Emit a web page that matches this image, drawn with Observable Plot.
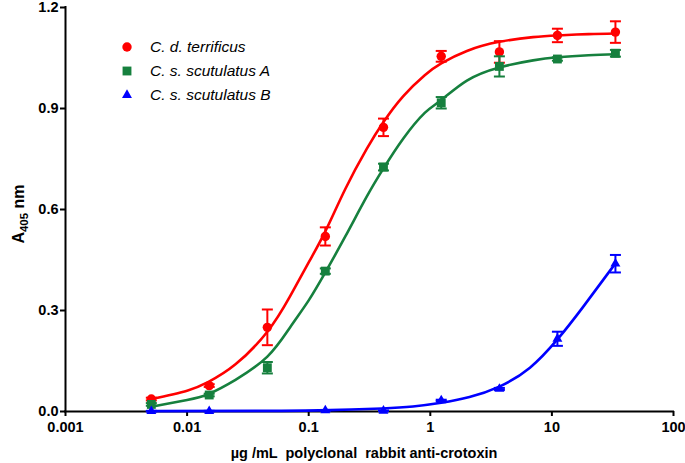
<!DOCTYPE html>
<html><head><meta charset="utf-8">
<script src="https://cdn.jsdelivr.net/npm/d3@7"></script>
<script src="https://cdn.jsdelivr.net/npm/@observablehq/plot@0.6"></script>
<style>
body{margin:0;background:#fff;}
#wrap{position:relative;width:685px;height:463px;font-family:"Liberation Sans",Arial,sans-serif;}
#legend{position:absolute;left:117px;top:35px;font-style:italic;font-size:15.5px;color:#000;}
.li{display:flex;align-items:center;height:24px;}
.li svg{width:20px;height:14px;margin-right:13px;}
</style></head><body><div id="wrap"><div id="legend"></div></div>
<script>
// ---- data ----
const seriesNames = ["C. d. terrificus", "C. s. scutulatus A", "C. s. scutulatus B"];
const seriesColors = ["#ff0000", "#16803e", "#0000ff"];
const dilutions = [0.00508, 0.0152, 0.0457, 0.137, 0.412, 1.23, 3.70, 11.1, 33.3];

const terrMean = [0.037, 0.077, 0.25, 0.52, 0.844, 1.055, 1.068, 1.117, 1.127];
const terrSem  = [0.004, 0.004, 0.053, 0.027, 0.026, 0.016, 0.032, 0.02, 0.032];
const scutAMean = [0.021, 0.049, 0.13, 0.417, 0.726, 0.917, 1.025, 1.047, 1.064];
const scutASem  = [0.004, 0.004, 0.017, 0.008, 0.01, 0.017, 0.03, 0.005, 0.01];
const scutBDil  = [0.00508, 0.0152, 0.137, 0.412, 1.23, 3.70, 11.1, 33.3];
const scutBMean = [0.001, 0.001, 0.003, 0.002, 0.033, 0.067, 0.216, 0.439];
const scutBSem  = [0.001, 0.001, 0.001, 0.001, 0.002, 0.003, 0.021, 0.026];

// fitted curves
const terrFitX = [0.00508, 0.01, 0.015, 0.025, 0.0457, 0.07, 0.1, 0.137, 0.2, 0.3, 0.412, 0.6, 0.9, 1.23, 2, 3.7, 7, 11.1, 20, 33.3];
const terrFitY = [0.037, 0.062, 0.088, 0.14, 0.237, 0.341, 0.443, 0.535, 0.661, 0.78, 0.86, 0.937, 0.999, 1.034, 1.071, 1.098, 1.112, 1.117, 1.121, 1.123];
const scutAFitX = [0.00508, 0.01, 0.015, 0.025, 0.0457, 0.07, 0.1, 0.137, 0.2, 0.3, 0.412, 0.6, 0.9, 1.23, 2, 3.7, 7, 11.1, 20, 33.3];
const scutAFitY = [0.014, 0.034, 0.052, 0.094, 0.163, 0.249, 0.33, 0.413, 0.52, 0.638, 0.722, 0.811, 0.887, 0.925, 0.983, 1.022, 1.043, 1.052, 1.058, 1.061];
const scutBFitX = [0.00508, 0.05, 0.15, 0.4, 0.72, 1.23, 2.1, 3.7, 6.6, 11.1, 18, 33.3];
const scutBFitY = [0.001, 0.002, 0.004, 0.009, 0.015, 0.026, 0.043, 0.074, 0.13, 0.214, 0.31, 0.44];

const xTicks = [0.001, 0.01, 0.1, 1, 10, 100];
const xTickLabels = ["0.001", "0.01", "0.1", "1", "10", "100"];
const yTicks = [0, 0.3, 0.6, 0.9, 1.2];
const xLabel = "µg /mL  polyclonal  rabbit anti-crotoxin";

// ---- build tables ----
const pts = [];
dilutions.forEach((x, i) => pts.push({s: 0, x, y: terrMean[i], e: terrSem[i]}));
dilutions.forEach((x, i) => pts.push({s: 1, x, y: scutAMean[i], e: scutASem[i]}));
scutBDil.forEach((x, i) => pts.push({s: 2, x, y: scutBMean[i], e: scutBSem[i]}));
const fits = [];
terrFitX.forEach((x, i) => fits.push({s: 0, x, y: terrFitY[i]}));
scutAFitX.forEach((x, i) => fits.push({s: 1, x, y: scutAFitY[i]}));
scutBFitX.forEach((x, i) => fits.push({s: 2, x, y: scutBFitY[i]}));

const cap = {draw(ctx) { ctx.moveTo(-5.5, 0); ctx.lineTo(5.5, 0); }};
const symbols = ["circle", "square", "triangle"];
const radii = [4.7, 5, 3.7];

const seriesMarks = [];
for (let s = 0; s < 3; s++) {
  const p = pts.filter(d => d.s === s);
  const c = seriesColors[s];
  seriesMarks.push(
    Plot.line(fits.filter(d => d.s === s), {x: "x", y: "y", stroke: c, strokeWidth: 2.6, curve: "natural"}),
    Plot.ruleX(p, {x: "x", y1: d => d.y - d.e, y2: d => d.y + d.e, stroke: c, strokeWidth: 2}),
    Plot.dot(p, {x: "x", y: d => d.y + d.e, symbol: cap, stroke: c, strokeWidth: 2, fill: "none"}),
    Plot.dot(p, {x: "x", y: d => d.y - d.e, symbol: cap, stroke: c, strokeWidth: 2, fill: "none"}),
    Plot.dot(p, {x: "x", y: "y", symbol: symbols[s], r: radii[s], fill: c, stroke: "none"})
  );
}

const plot = Plot.plot({
  width: 685, height: 463,
  marginLeft: 65, marginRight: 12, marginTop: 7, marginBottom: 52,
  style: {fontFamily: "'Liberation Sans', Arial, sans-serif", fontSize: "14.5px", fontWeight: "bold", color: "#000", background: "#fff", overflow: "visible"},
  x: {type: "log", domain: [0.001, 100]},
  y: {domain: [0, 1.2]},
  marks: [
    Plot.axisX({ticks: xTicks, tickFormat: d => xTickLabels[xTicks.findIndex(t => Math.abs(t - d) / t < 1e-6)], tickSize: 5, tickPadding: 5, strokeWidth: 2, label: null}),
    Plot.axisY({ticks: yTicks, tickFormat: d3.format(".1f"), tickSize: 5, tickPadding: 2, strokeWidth: 2, label: null}),
    Plot.ruleY([0], {strokeWidth: 2, strokeLinecap: "square"}),
    Plot.ruleX([0.001], {strokeWidth: 2, strokeLinecap: "square"}),
    ...seriesMarks
  ]
});

const svg = d3.select(plot);
const yl = svg.append("text")
  .attr("transform", "translate(24,214) rotate(-90)")
  .attr("text-anchor", "middle")
  .style("font-size", "16px").style("font-weight", "bold");
yl.append("tspan").text("A");
yl.append("tspan").attr("dy", 4).style("font-size", "11.5px").text("405");
yl.append("tspan").attr("dy", -4).text(" nm");
svg.append("text")
  .attr("x", 364).attr("y", 458)
  .attr("text-anchor", "middle")
  .attr("xml:space", "preserve").style("white-space", "pre")
  .style("font-size", "14.5px").style("font-weight", "bold")
  .text(xLabel);

const wrap = document.getElementById("wrap");
wrap.insertBefore(plot, wrap.firstChild);

// legend
const legend = d3.select("#legend");
seriesNames.forEach((name, s) => {
  const row = legend.append("div").attr("class", "li");
  const sv = row.append("svg").attr("viewBox", "-10 -7 20 14");
  sv.append("path").attr("d", d3.symbol(d3[["symbolCircle","symbolSquare","symbolTriangle"][s]], Math.PI * radii[s] * radii[s])()).attr("fill", seriesColors[s]);
  row.append("span").text(name);
});
</script>
</body></html>
